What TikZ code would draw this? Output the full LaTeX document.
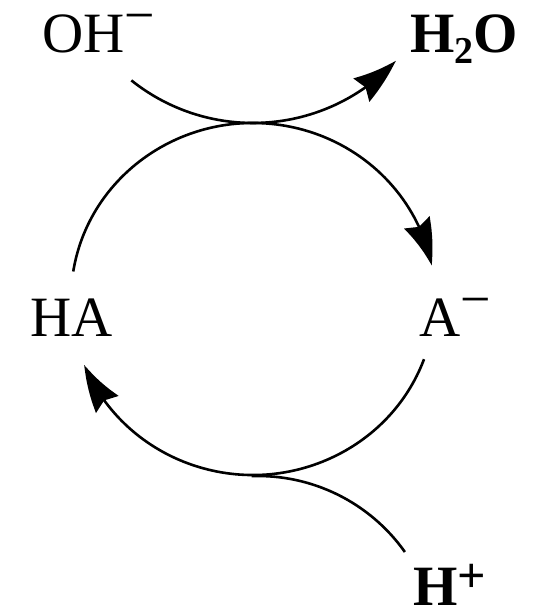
\documentclass[tikz,border=0pt]{standalone}
\usepackage{fontspec}
\setmainfont{Liberation Serif}
\usetikzlibrary{arrows.meta,bending,calc}
\newcommand\supminus{\raisebox{19pt}{\fontsize{54}{54}\selectfont −}}
\newcommand\supplus{\raisebox{12.5pt}{\fontsize{50}{50}\selectfont\bfseries +}}
\newcommand\subtwo{\raisebox{-11pt}{\fontsize{38}{38}\selectfont\bfseries 2}}
\begin{document}
\begin{tikzpicture}[
  line width=2.6pt,
  lab/.style={anchor=base west, inner sep=0pt, font=\fontsize{57}{60}\selectfont},
  arr/.style={-{Stealth[length=46pt,width=28pt,inset=5pt,bend]}}]
\useasboundingbox (0,0) rectangle (533pt,613pt);
% labels
\node[lab] (oh)  at (41pt,560pt) {OH\supminus};
\node[lab] (h2o) at (409pt,560pt) {\bfseries H\subtwo O};
\node[lab] (ha)  at (29pt,276pt) {HA};
\node[lab] (am)  at (418pt,276pt) {A\supminus};
\node[lab] (hp)  at (412pt,8pt) {\bfseries H\supplus};
% cycle
\coordinate (c) at (253pt,314pt);
\coordinate (u1) at ($(c)+(171:182pt and 176pt)$);
\coordinate (b1) at ($(c)+(-20:182pt and 176pt)$);
\draw[arr] (u1) arc[start angle=171, end angle=11, x radius=182pt, y radius=176pt];
\draw[arr] (b1) arc[start angle=-20, end angle=-158, x radius=182pt, y radius=176pt];
% OH- -> H2O
\coordinate (co) at (253pt,685pt);
\coordinate (o1) at ($(co)+(231.4:195pt)$);
\draw[arr] (o1) arc[start angle=231.4, end angle=317.1, radius=195pt];
% H+ in
\coordinate (ch) at (258pt,-43pt);
\coordinate (h1) at ($(ch)+(35.3:180pt)$);
\draw (h1) arc[start angle=35.3, end angle=92, radius=180pt];
\end{tikzpicture}
\end{document}
